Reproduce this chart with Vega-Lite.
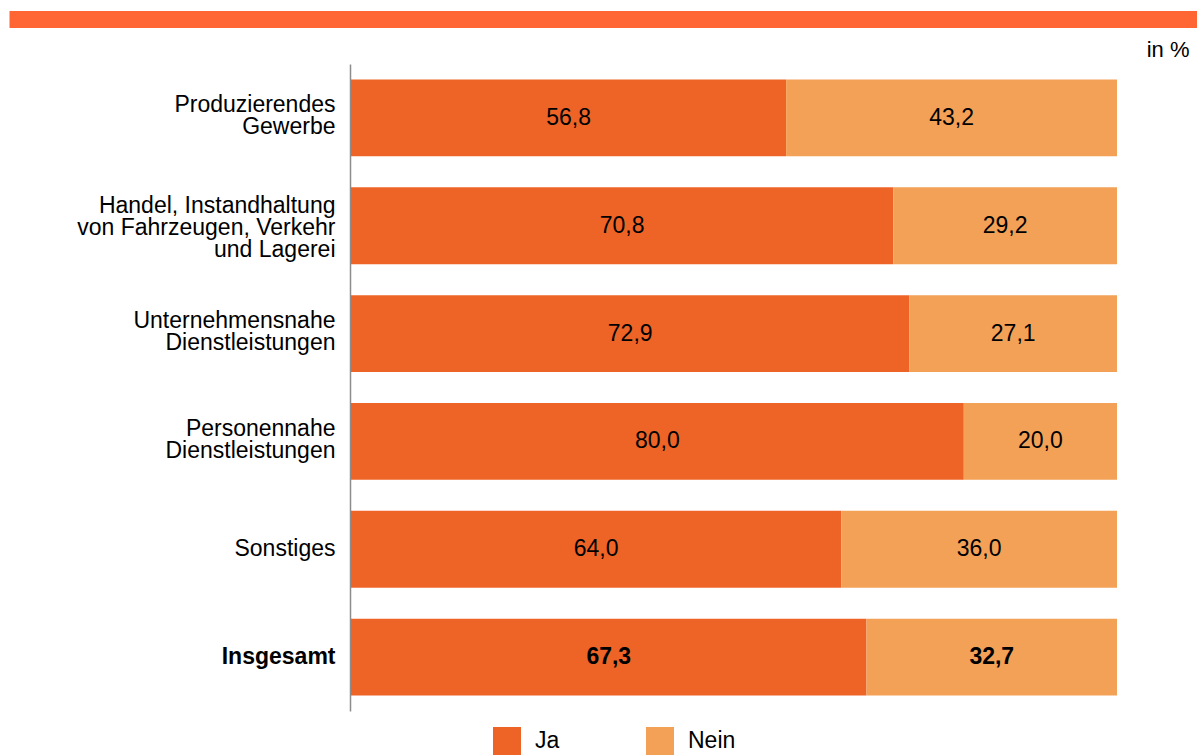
{
  "$schema": "https://vega.github.io/schema/vega-lite/v6.json",
  "width": 1188,
  "height": 647,
  "autosize": "none",
  "padding": {"left": 9, "top": 64, "right": 0, "bottom": 44},
  "background": "white",
  "config": {
    "view": {"stroke": null},
    "font": "Liberation Sans",
    "locale": {"number": {"decimal": ",", "thousands": ".", "grouping": [3], "currency": ["", " €"]}}
  },
  "data": {
    "values": [
      {"cat": "Produzierendes|Gewerbe", "typ": "Ja", "val": 56.8},
      {"cat": "Produzierendes|Gewerbe", "typ": "Nein", "val": 43.2},
      {"cat": "Handel, Instandhaltung|von Fahrzeugen, Verkehr|und Lagerei", "typ": "Ja", "val": 70.8},
      {"cat": "Handel, Instandhaltung|von Fahrzeugen, Verkehr|und Lagerei", "typ": "Nein", "val": 29.2},
      {"cat": "Unternehmensnahe|Dienstleistungen", "typ": "Ja", "val": 72.9},
      {"cat": "Unternehmensnahe|Dienstleistungen", "typ": "Nein", "val": 27.1},
      {"cat": "Personennahe|Dienstleistungen", "typ": "Ja", "val": 80.0},
      {"cat": "Personennahe|Dienstleistungen", "typ": "Nein", "val": 20.0},
      {"cat": "Sonstiges", "typ": "Ja", "val": 64.0},
      {"cat": "Sonstiges", "typ": "Nein", "val": 36.0},
      {"cat": "Insgesamt", "typ": "Ja", "val": 67.3},
      {"cat": "Insgesamt", "typ": "Nein", "val": 32.7}
    ]
  },
  "transform": [
    {"stack": "val", "groupby": ["cat"], "sort": [{"field": "typ"}], "as": ["x0", "x1"]},
    {"calculate": "(datum.x0 + datum.x1) / 2", "as": "xm"}
  ],
  "encoding": {
    "y": {
      "field": "cat",
      "type": "nominal",
      "sort": [
        "Produzierendes|Gewerbe",
        "Handel, Instandhaltung|von Fahrzeugen, Verkehr|und Lagerei",
        "Unternehmensnahe|Dienstleistungen",
        "Personennahe|Dienstleistungen",
        "Sonstiges",
        "Insgesamt"
      ],
      "scale": {"paddingInner": 0.287, "paddingOuter": 0.1435},
      "axis": {
        "orient": "left",
        "offset": -341,
        "title": null,
        "ticks": false,
        "tickSize": 0,
        "labelPadding": 15,
        "labelFont": "Liberation Sans",
        "labelFontSize": 23,
        "labelLineHeight": 22,
        "labelColor": "black",
        "labelLimit": 400,
        "labelExpr": "split(datum.label, '|')",
        "labelFontWeight": {"condition": {"test": "datum.value === 'Insgesamt'", "value": "bold"}, "value": "normal"},
        "labelOffset": {
          "condition": [
            {"test": "length(split(datum.value, '|')) === 3", "value": -20},
            {"test": "length(split(datum.value, '|')) === 2", "value": -12.5}
          ],
          "value": 0
        },
        "domainColor": "#8c8c8c",
        "domainWidth": 1.5
      }
    }
  },
  "layer": [
    {
      "mark": {"type": "bar"},
      "encoding": {
        "x": {
          "field": "x0",
          "type": "quantitative",
          "scale": {"domain": [-44.648, 110.444], "nice": false, "zero": false},
          "axis": {
            "orient": "top",
            "offset": 45,
            "domainColor": "#FF6633",
            "domainWidth": 17,
            "ticks": false,
            "labels": false,
            "grid": false,
            "title": "in %",
            "titleX": 1180,
            "titleY": 37,
            "titleAlign": "right",
            "titleAnchor": "end",
            "titleBaseline": "alphabetic",
            "titleFont": "Liberation Sans",
            "titleFontSize": 22,
            "titleFontWeight": "normal",
            "titleColor": "black"
          }
        },
        "x2": {"field": "x1"},
        "color": {
          "field": "typ",
          "type": "nominal",
          "scale": {"domain": ["Ja", "Nein"], "range": ["#EE6427", "#F3A157"]},
          "legend": {
            "orient": "none",
            "legendX": 484,
            "legendY": 663,
            "direction": "horizontal",
            "title": null,
            "symbolType": "square",
            "symbolSize": 784,
            "symbolStrokeWidth": 0,
            "symbolOpacity": 1,
            "labelFont": "Liberation Sans",
            "labelFontSize": 23,
            "labelColor": "black",
            "labelOffset": 14,
            "columnPadding": 86,
            "padding": 0
          }
        }
      }
    },
    {
      "transform": [{"filter": "datum.cat !== 'Insgesamt'"}],
      "mark": {"type": "text", "fontSize": 23, "font": "Liberation Sans", "color": "black"},
      "encoding": {
        "x": {"field": "xm", "type": "quantitative"},
        "text": {"field": "val", "type": "quantitative", "format": ".1f"}
      }
    },
    {
      "transform": [{"filter": "datum.cat === 'Insgesamt'"}],
      "mark": {"type": "text", "fontSize": 23, "font": "Liberation Sans", "fontWeight": "bold", "color": "black"},
      "encoding": {
        "x": {"field": "xm", "type": "quantitative"},
        "text": {"field": "val", "type": "quantitative", "format": ".1f"}
      }
    }
  ]
}
